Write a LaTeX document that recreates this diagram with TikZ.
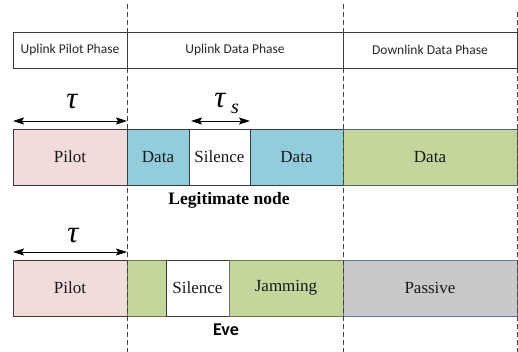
\documentclass[tikz,border=0pt]{standalone}
\usepackage{fontspec}
\setmainfont{Liberation Serif}
\newfontfamily\serffont{Liberation Serif}
\newfontfamily\calfont{Carlito}
\usetikzlibrary{arrows.meta}
\definecolor{pinkc}{HTML}{F2DCDB}
\definecolor{bluec}{HTML}{92CDDC}
\definecolor{greenc}{HTML}{C3D69B}
\definecolor{grayc}{HTML}{C9C9CB}
\definecolor{edgec}{HTML}{3A3A3A}
\definecolor{olivec}{HTML}{6E7550}
\definecolor{blueedge}{HTML}{5F78A8}
\tikzset{
  phase/.style={draw=edgec, line width=0.9pt, minimum height=36pt, inner sep=0pt, font=\calfont\fontsize{13.5}{15}\selectfont, text=black!85},
  cell/.style={draw=edgec, line width=0.9pt, minimum height=56pt, inner sep=0pt, font=\serffont\fontsize{17}{19}\selectfont, text=black!90},
  vdash/.style={draw=black!75, line width=0.8pt, dash pattern=on 5pt off 3pt},
  span/.style={line width=0.9pt, {Stealth[length=11pt,width=7pt,inset=2pt]}-{Stealth[length=11pt,width=7pt,inset=2pt]}},
  taulbl/.style={font=\serffont\fontsize{31}{33}\selectfont\itshape, inner sep=0pt},
  caption/.style={font=\serffont\bfseries\fontsize{17.5}{19}\selectfont, inner sep=0pt}
}
\begin{document}
\begin{tikzpicture}[x=1pt,y=-1pt]
\useasboundingbox (0,0) rectangle (518,352);
% phase row
\node[phase, minimum width=114pt] (ph1) at (70,50) {Uplink Pilot Phase};
\node[phase, minimum width=216pt] (ph2) at (235,50) {Uplink Data Phase};
\node[phase, minimum width=174pt] (ph3) at (430,50) {Downlink Data Phase};
% row 1
\node[cell, fill=pinkc, minimum width=114pt] (pilot1) at (70,157) {Pilot};
\node[cell, fill=bluec, minimum width=62pt] (data1) at (158,157) {Data};
\node[cell, fill=white, minimum width=61pt] (sil1) at (219.5,157) {Silence};
\node[cell, fill=bluec, minimum width=93pt] (data2) at (296.5,157) {Data};
\node[cell, fill=greenc, draw=blueedge!60!edgec, minimum width=174pt] (data3) at (430,157) {Data};
\node[caption] (legit) at (229,200) {Legitimate node};
% row 2
\node[cell, fill=pinkc, minimum width=114pt] (pilot2) at (70,288) {Pilot};
\node[cell, fill=greenc, draw=olivec, minimum width=39pt] (jam0) at (146.5,288) {};
\node[cell, fill=white, minimum width=63pt] (sil2) at (197.5,288) {Silence};
\node[cell, fill=greenc, draw=olivec, minimum width=114pt] (jam) at (286,288) {Jamming};
\node[cell, fill=grayc, draw=blueedge, minimum width=174pt] (pass) at (430,288) {Passive};
\node[caption, font=\calfont\bfseries\fontsize{18}{20}\selectfont] (eve) at (226,330) {Eve};
% dashed phase boundaries
\coordinate (d1t) at (127,4); \coordinate (d1b) at (127,352);
\coordinate (d2t) at (343,4); \coordinate (d2b) at (343,352);
\coordinate (d3t) at (517,12); \coordinate (d3b) at (517,352);
\draw[vdash] (d1t) -- (d1b);
\draw[vdash] (d2t) -- (d2b);
\draw[vdash] (d3t) -- (d3b);
% spans
\coordinate (a1l) at (13,121); \coordinate (a1r) at (127,121);
\coordinate (a2l) at (191,121); \coordinate (a2r) at (250,121);
\coordinate (a3l) at (13,252); \coordinate (a3r) at (127,252);
\draw[span] (a1l) -- (a1r);
\draw[span] (a2l) -- (a2r);
\draw[span] (a3l) -- (a3r);
\node[taulbl] (tau1) at (72,102) {τ};
\node[taulbl] (tau2) at (220,101) {τ};
\node[font=\serffont\fontsize{20}{22}\selectfont\itshape, inner sep=0pt] (sub) at (235,109) {s};
\node[taulbl] (tau3) at (73,236) {τ};
\end{tikzpicture}
\end{document}
